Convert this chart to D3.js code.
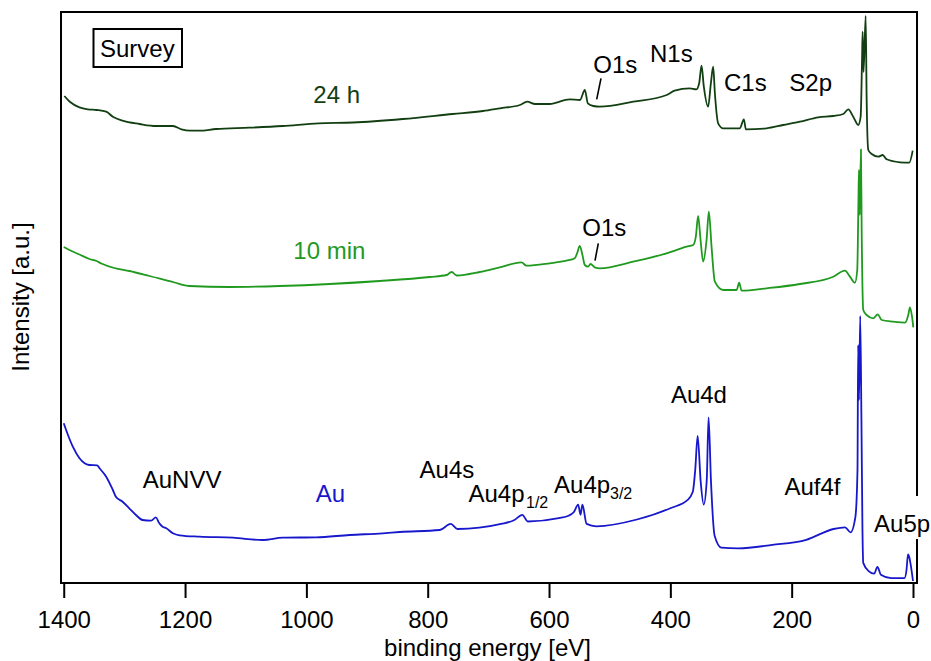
<!DOCTYPE html>
<html>
<head>
<meta charset="utf-8">
<script src="https://cdn.jsdelivr.net/npm/d3@7"></script>
<style>
  html, body { margin: 0; padding: 0; background: #fff; }
  svg text { font-family: "Liberation Sans", Arial, sans-serif; }
</style>
</head>
<body>
<svg id="chart" width="931" height="661"></svg>
<script>
// XPS survey spectra: binding energy [eV] vs intensity [a.u.]
const energyTicks = [1400, 1200, 1000, 800, 600, 400, 200, 0];

// 24 h sample
const spectrum24h = [
  [1399, 487], [1390, 481.3], [1374, 475.7], [1360, 473.7], [1346, 473], [1330, 471.3],
  [1319, 466.3], [1303, 462.3], [1275, 459], [1248, 457], [1220, 457], [1206, 453.7],
  [1192, 452.3], [1176, 452.3], [1149, 454], [1094, 455.3], [1039, 457], [980, 459.7],
  [923, 460.5], [841, 464], [759, 469], [709, 472], [681, 474.7], [648, 478], [636, 481.3],
  [623, 479], [599, 479], [566, 483.7], [549, 483], [541, 493], [536, 479.7], [527, 477],
  [516, 476.3], [461, 481.3], [406, 488], [393, 492.3], [368, 494.7], [357, 493.7],
  [352.5, 499.7], [348.6, 517.3], [344.8, 496.3], [337.7, 476.3], [333.2, 499.7],
  [329.4, 516.3], [326.6, 489.7], [321.2, 459.7], [312.9, 454.7], [285.4, 454.7],
  [278.8, 463.7], [275.5, 453.7], [241.3, 454.7], [214, 458], [186.4, 461.3], [156.2, 465.7],
  [131.5, 467], [115, 469], [106.7, 473.7], [98.5, 466.3], [90.2, 458], [86.3, 466.3],
  [84, 523], [83, 551.3], [81.5, 511], [78, 567], [76.4, 483], [73.7, 433], [68.1, 429],
  [57.2, 426.3], [50, 428], [43.4, 423.7], [21.4, 420.7], [6.1, 420.3], [0.5, 432.3]
];

// 10 min sample
const spectrum10min = [
  [1400, 336], [1390.6, 333], [1374, 328.5], [1357.6, 324], [1346, 322], [1338, 319.5],
  [1316.7, 315], [1291.6, 312], [1258.6, 307], [1217.4, 300.5], [1192.6, 297], [1126.7, 296],
  [1044.2, 297], [961.7, 299], [879.2, 302], [796.8, 306], [768.7, 308], [760.5, 311],
  [752.2, 307.5], [714.3, 311], [681.3, 315.7], [645.5, 320.7], [637.2, 317.3], [598.8, 319.7],
  [571.3, 322.3], [557.6, 324.7], [553.8, 329.7], [549.3, 337], [544.9, 328], [541.1, 318],
  [535.6, 316.3], [531.7, 319], [524.6, 315.7], [516.3, 314.7], [461.4, 321.3], [406.3, 329.7],
  [373.3, 336.3], [362.4, 338], [358, 346.3], [354.2, 367], [350.2, 343], [345.9, 321.3],
  [340.3, 343], [336.5, 371.3], [332.1, 336.3], [326.6, 301.3], [312.9, 293], [290.8, 293],
  [286.5, 300.3], [282.6, 292.3], [241.3, 294.7], [186.4, 299], [131.5, 306.3], [112.2, 312.3],
  [103.9, 306.3], [95.7, 300.3], [91.9, 313], [89.9, 383], [89.1, 413], [87.8, 368],
  [85.8, 433.7], [84.6, 353], [82, 273], [76.4, 268], [65.3, 264.7], [58.2, 268.7], [51.6, 263],
  [32.5, 261.3], [13.2, 260.3], [7.8, 268], [5, 275.7], [1.6, 266.3], [-0.5, 255.7]
];

// clean Au reference
const spectrumAu = [
  [1400, 159.7], [1393, 148], [1385, 136.3], [1374, 124.7], [1358, 118], [1345, 117.7],
  [1341, 114.7], [1330, 106.3], [1319, 93], [1314, 86.3], [1303, 81.3], [1292, 74.7],
  [1281, 68], [1270, 63], [1256, 62.3], [1248, 65.7], [1243, 60.3], [1237, 56.3], [1231, 54.7],
  [1220, 49.7], [1209, 47.7], [1176, 46.3], [1121, 45.3], [1072, 43], [1039, 45.3], [984, 45.7],
  [929, 48], [874, 49.7], [846, 51], [780, 53], [762, 59.1], [751, 54], [679, 59.1], [657, 63],
  [644, 68.2], [635, 61.5], [584, 64.8], [567, 67.5], [559, 71], [552, 78.4], [548, 68.2],
  [545, 78.4], [538, 59.1], [522, 56.7], [455, 63.5], [399, 75], [372, 82.8], [363, 91.2],
  [359, 113], [355, 147.1], [350, 101.4], [345, 78.4], [340, 103], [337, 165.7], [333, 101.4],
  [327, 47.2], [316, 35.4], [288, 34.7], [232, 38.1], [176, 43.2], [131, 54], [112, 55.7],
  [103, 50.6], [95, 65.9], [91.5, 113], [90.4, 238], [89, 183], [87, 267], [85, 163],
  [83.3, 53], [82, 20.1], [72.6, 11.7], [64, 9.3], [58.6, 16.1], [53, 8.3], [36, 4.9],
  [14, 4.9], [10.7, 13], [8.2, 28.6], [5.8, 25], [3.8, 18.4], [0, 2]
];

const seriesColors = { h24: "#123f12", min10: "#1f9a1f", au: "#1717cc" };

const svg = d3.select("#chart");
const plotLeft = 61, plotRight = 917, plotTop = 12, plotBottom = 583;

const x = d3.scaleLinear().domain([1404.5, -6.6]).range([plotLeft, plotRight]);
const y = d3.scaleLinear().domain([0, 571]).range([plotBottom, plotTop]);

const line = d3.line().x(d => x(d[0])).y(d => y(d[1])).curve(d3.curveMonotoneX);

const traces = [
  { data: spectrumAu, color: seriesColors.au },
  { data: spectrum10min, color: seriesColors.min10 },
  { data: spectrum24h, color: seriesColors.h24 }
];
svg.append("g").selectAll("path").data(traces).join("path")
  .attr("d", d => line(d.data))
  .attr("fill", "none")
  .attr("stroke", d => d.color)
  .attr("stroke-width", 1.8)
  .attr("stroke-linejoin", "round");

// frame
svg.append("rect")
  .attr("x", plotLeft).attr("y", plotTop)
  .attr("width", plotRight - plotLeft).attr("height", plotBottom - plotTop)
  .attr("fill", "none").attr("stroke", "#000").attr("stroke-width", 2);

// bottom axis
const xAxis = d3.axisBottom(x).tickValues(energyTicks).tickFormat(d3.format("d"))
  .tickSize(15).tickSizeOuter(0).tickPadding(13);
const gx = svg.append("g").attr("transform", `translate(0,${plotBottom})`).call(xAxis);
gx.select(".domain").remove();
gx.selectAll(".tick line").attr("stroke", "#000").attr("stroke-width", 2);
gx.selectAll(".tick text").attr("fill", "#000").style("font-size", "24px")
  .style("font-family", "'Liberation Sans', Arial, sans-serif");

// axis titles
svg.append("text").attr("x", 487.5).attr("y", 656).attr("text-anchor", "middle")
  .style("font-size", "24px").text("binding energy [eV]");
svg.append("text").attr("transform", "translate(28.5,297) rotate(-90)").attr("text-anchor", "middle")
  .style("font-size", "24px").text("Intensity [a.u.]");

// "Survey" tag
svg.append("rect").attr("x", 93.5).attr("y", 29).attr("width", 88.5).attr("height", 38)
  .attr("fill", "#fff").attr("stroke", "#000").attr("stroke-width", 2);
svg.append("text").attr("x", 100).attr("y", 56.5).style("font-size", "24px").text("Survey");

// peak and series labels
const labels = [
  { t: "24 h", x: 313.3, y: 102.7, c: seriesColors.h24 },
  { t: "10 min", x: 293.3, y: 259.3, c: seriesColors.min10 },
  { t: "Au", x: 315.7, y: 501.7, c: seriesColors.au },
  { t: "AuNVV", x: 142.7, y: 488.3 },
  { t: "O1s", x: 593.3, y: 72.7 },
  { t: "N1s", x: 650, y: 61.7 },
  { t: "C1s", x: 724, y: 90.7 },
  { t: "S2p", x: 789.3, y: 90.7 },
  { t: "O1s", x: 582.3, y: 236 },
  { t: "Au4d", x: 670.9, y: 403 },
  { t: "Au4s", x: 419.6, y: 478.2 },
  { t: "Auf4f", x: 784.4, y: 494.5 }
];
svg.append("g").selectAll("text").data(labels).join("text")
  .attr("x", d => d.x).attr("y", d => d.y)
  .attr("fill", d => d.c || "#000")
  .style("font-size", "24px").text(d => d.t);

// labels with subscripts
function subLabel(base, sub, bx, by, sx, sy) {
  const t = svg.append("text").attr("x", bx).attr("y", by).style("font-size", "24px");
  t.append("tspan").text(base);
  t.append("tspan").attr("x", sx).attr("y", sy).style("font-size", "16px").text(sub);
}
subLabel("Au4p", "1/2", 468.5, 501.5, 526, 508);
subLabel("Au4p", "3/2", 554.1, 493.4, 610, 499.2);

// Au5p sits over the right frame edge on a white patch
svg.append("rect").attr("x", 866).attr("y", 496).attr("width", 65).attr("height", 43).attr("fill", "#fff");
svg.append("text").attr("x", 874.1).attr("y", 532.4).style("font-size", "24px").text("Au5p");

// O1s leader ticks
const leaders = [[601, 78.3, 596.7, 99.3], [598.3, 243.3, 595, 260.7]];
svg.append("g").selectAll("line").data(leaders).join("line")
  .attr("x1", d => d[0]).attr("y1", d => d[1]).attr("x2", d => d[2]).attr("y2", d => d[3])
  .attr("stroke", "#000").attr("stroke-width", 1.6);
</script>
</body>
</html>
